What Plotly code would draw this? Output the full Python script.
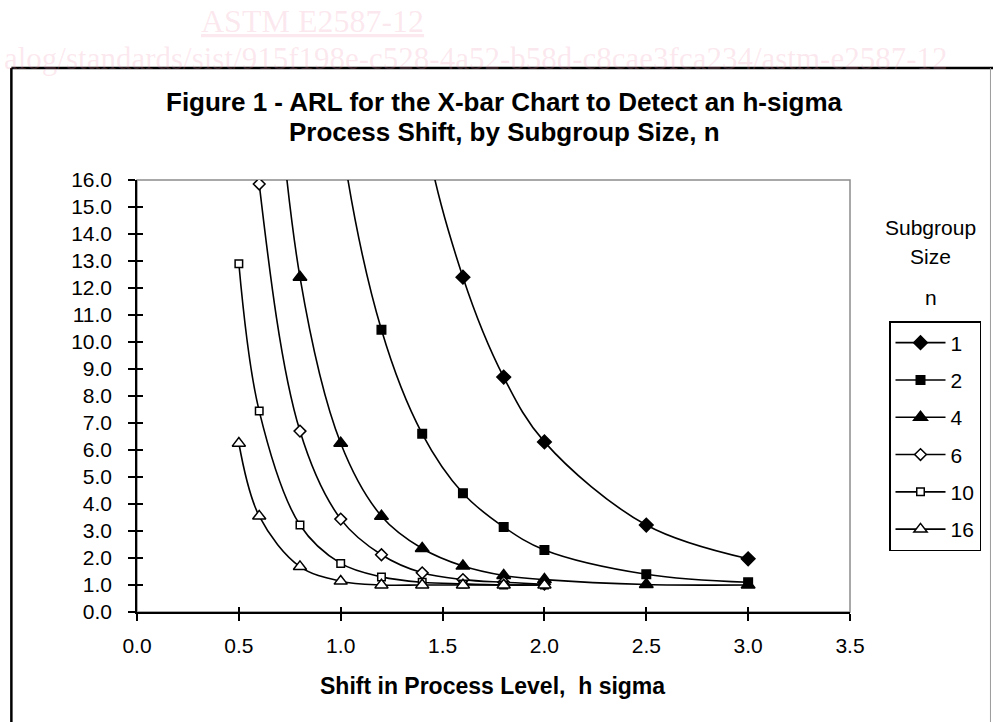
import plotly.graph_objects as go

# ---- data ----
x_n1 = [1.2, 1.4, 1.6, 1.8, 2.0, 2.5, 3.0]
arl_n1 = [33.4, 18.3, 12.4, 8.7, 6.3, 3.22, 1.97]
x_n2 = [0.8, 1.0, 1.2, 1.4, 1.6, 1.8, 2.0, 2.5, 3.0]
arl_n2 = [35.0, 17.7, 10.45, 6.6, 4.4, 3.15, 2.3, 1.4, 1.1]
x_n4 = [0.6, 0.8, 1.0, 1.2, 1.4, 1.6, 1.8, 2.0, 2.5, 3.0]
arl_n4 = [27.8, 12.4, 6.25, 3.55, 2.35, 1.7, 1.35, 1.2, 1.02, 1.0]
x_n6 = [0.5, 0.6, 0.8, 1.0, 1.2, 1.4, 1.6, 1.8, 2.0]
arl_n6 = [26.6, 15.85, 6.7, 3.44, 2.12, 1.45, 1.2, 1.1, 1.03]
x_n10 = [0.5, 0.6, 0.8, 1.0, 1.2, 1.4, 1.6, 1.8, 2.0]
arl_n10 = [12.9, 7.44, 3.22, 1.8, 1.3, 1.1, 1.04, 1.0, 1.0]
x_n16 = [0.5, 0.6, 0.8, 1.0, 1.2, 1.4, 1.6, 1.8, 2.0]
arl_n16 = [6.25, 3.55, 1.68, 1.14, 1.0, 1.0, 1.0, 1.0, 1.0]

series_names = ["1", "2", "4", "6", "10", "16"]
x_ticks = [0.0, 0.5, 1.0, 1.5, 2.0, 2.5, 3.0, 3.5]
y_ticks = [float(v) for v in range(0, 17)]

xs = [x_n1, x_n2, x_n4, x_n6, x_n10, x_n16]
ys = [arl_n1, arl_n2, arl_n4, arl_n6, arl_n10, arl_n16]

# ---- styles ----
styles = [
    dict(symbol="diamond", size=10.5, color="black"),
    dict(symbol="square", size=8.5, color="black"),
    dict(symbol="triangle-up", size=12, color="black"),
    dict(symbol="diamond", size=9, color="white"),
    dict(symbol="square", size=7.5, color="white"),
    dict(symbol="triangle-up", size=11.5, color="white"),
]

FONT = "Liberation Sans, Arial, sans-serif"
fig = go.Figure()
for name, x, y, st in zip(series_names, xs, ys, styles):
    fig.add_trace(go.Scatter(
        x=x, y=y, name=name, mode="lines+markers",
        legendgroup=name,
        line=dict(color="black", width=1.6, shape="spline", smoothing=1.0),
        marker=dict(symbol=st["symbol"], size=st["size"], color=st["color"],
                    line=dict(color="black", width=1.5)),
        cliponaxis=True,
    ))

# dummy trace for overlay axes (cross ticks)
fig.add_trace(go.Scatter(x=[1.0], y=[1.0], xaxis="x2", yaxis="y2", mode="markers",
                         marker=dict(opacity=0), showlegend=False, hoverinfo="skip"))

fig.update_layout(
    width=993, height=722,
    margin=dict(l=137, r=143, t=180, b=110),
    paper_bgcolor="white", plot_bgcolor="white",
    font=dict(family=FONT, color="black", size=21),
    showlegend=True,
    legend=dict(x=1.0547, y=0.6736, xanchor="left", yanchor="top",
                bordercolor="black", borderwidth=1.5,
                font=dict(size=21, family=FONT),
                traceorder="grouped", tracegroupgap=7,
                itemwidth=50),
    xaxis=dict(range=[0, 3.5], tickvals=x_ticks, tickformat=".1f",
               showgrid=False, zeroline=False, showline=True, linecolor="black", linewidth=1.6,
               ticks="outside", ticklen=7, tickwidth=1.5, tickcolor="black",
               ticklabelstandoff=7,
               tickfont=dict(size=21), fixedrange=True),
    yaxis=dict(range=[0, 16], tickvals=y_ticks, tickformat=".1f",
               showgrid=False, zeroline=False, showline=True, linecolor="black", linewidth=1.6,
               ticks="outside", ticklen=7, tickwidth=1.5, tickcolor="black",
               ticklabelstandoff=12,
               tickfont=dict(size=21), fixedrange=True),
    xaxis2=dict(range=[0, 3.5], tickvals=x_ticks, overlaying="x", side="bottom",
                showticklabels=False, showgrid=False, zeroline=False, showline=False,
                ticks="inside", ticklen=5, tickwidth=1.5, tickcolor="black"),
    yaxis2=dict(range=[0, 16], tickvals=y_ticks, overlaying="y", side="left",
                showticklabels=False, showgrid=False, zeroline=False, showline=False,
                ticks="inside", ticklen=6, tickwidth=1.5, tickcolor="black"),
)

# plot area frame (gray top/right)
fig.add_shape(type="rect", xref="paper", yref="paper", x0=0, x1=1, y0=0, y1=1,
              line=dict(color="#8c8c8c", width=1.5), layer="below")

# watermark
WM = "rgba(240,150,180,0.22)"
SERIF = "Liberation Serif, Times New Roman, serif"
fig.add_annotation(text="<u>ASTM E2587-12</u>", xref="paper", yref="paper", x=0.2458, y=1.368,
                   showarrow=False, font=dict(size=32, family=SERIF, color=WM),
                   xanchor="center", yanchor="middle")
fig.add_annotation(text="alog/standards/sist/915f198e-c528-4a52-b58d-c8cae3fca234/astm-e2587-12",
                   xref="paper", yref="paper", x=-0.1888, y=1.2824, showarrow=False,
                   font=dict(size=31, family=SERIF, color=WM),
                   xanchor="left", yanchor="middle")

# outer chart frame
fig.add_shape(type="line", xref="paper", yref="paper", x0=-0.1762, x1=1.25, y0=1.259, y1=1.259,
              line=dict(color="black", width=2.5), layer="above")
fig.add_shape(type="line", xref="paper", yref="paper", x0=-0.1762, x1=-0.1762, y0=1.259, y1=-0.3,
              line=dict(color="black", width=2.5), layer="above")
fig.add_shape(type="line", xref="paper", yref="paper", x0=1.197, x1=1.197, y0=1.259, y1=-0.3,
              line=dict(color="#9a9a9a", width=1), layer="above")

# titles
fig.add_annotation(text="<b>Figure 1 - ARL for the X-bar Chart to Detect an h-sigma</b>",
                   xref="paper", yref="paper", x=0.5156, y=1.1806, showarrow=False,
                   font=dict(size=26, family=FONT), xanchor="center", yanchor="middle")
fig.add_annotation(text="<b>Process Shift, by Subgroup Size, n</b>",
                   xref="paper", yref="paper", x=0.5156, y=1.1111, showarrow=False,
                   font=dict(size=26, family=FONT), xanchor="center", yanchor="middle")
fig.add_annotation(text="<b>Shift in Process Level,  h sigma</b>",
                   xref="paper", yref="paper", x=0.4988, y=-0.1713, showarrow=False,
                   font=dict(size=23, family=FONT), xanchor="center", yanchor="middle")

# legend heading
for txt, yy in [("Subgroup", 0.8889), ("Size", 0.8218), ("n", 0.7269)]:
    fig.add_annotation(text=txt, xref="paper", yref="paper", x=1.1136, y=yy, showarrow=False,
                       font=dict(size=21, family=FONT), xanchor="center", yanchor="middle")

fig.write_html("out.html", config={"displayModeBar": False},
               post_script="document.body.style.margin='0px';")
